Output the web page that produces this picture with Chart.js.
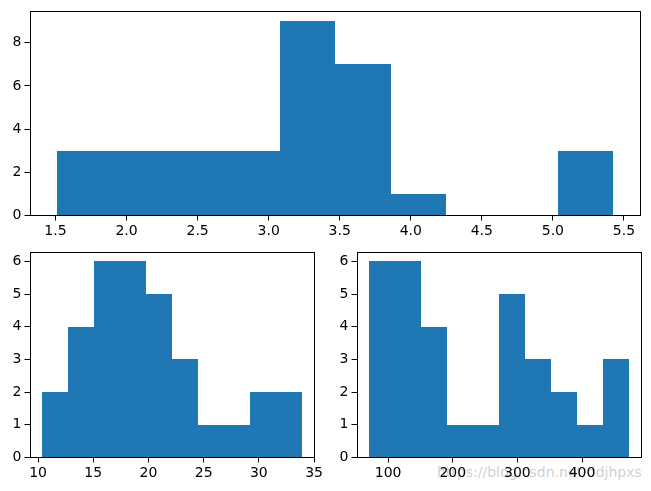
<!DOCTYPE html>
<html>
<head>
<meta charset="utf-8">
<script src="https://cdn.jsdelivr.net/npm/chart.js@4"></script>
<style>
  body { margin: 0; background: #fff; }
  #wrap { position: relative; width: 651px; height: 491px; overflow: hidden; }
  canvas { position: absolute; }
  #mark {
    position: absolute; left: 437px; top: 464px;
    font: 14px "DejaVu Sans", sans-serif; color: rgba(200, 200, 200, 0.85);
    white-space: nowrap;
  }
</style>
</head>
<body>
<div id="wrap">
  <div id="mark">https://blog.csdn.net/ddjhpxs</div>
  <canvas id="top" width="651" height="245" style="left:0;top:0"></canvas>
  <canvas id="botLeft" width="325" height="251" style="left:0;top:240px"></canvas>
  <canvas id="botRight" width="326" height="251" style="left:325px;top:240px"></canvas>
</div>
<script>
// histogram bins (edges + counts)
const wtEdges = [1.513, 1.904, 2.295, 2.687, 3.078, 3.469, 3.860, 4.251, 4.642, 5.033, 5.424];
const wtCounts = [3, 3, 3, 3, 9, 7, 1, 0, 0, 3];
const mpgEdges = [10.4, 12.75, 15.1, 17.45, 19.8, 22.15, 24.5, 26.85, 29.2, 31.55, 33.9];
const mpgCounts = [2, 4, 6, 6, 5, 3, 1, 1, 2, 2];
const dispEdges = [71.1, 111.19, 151.28, 191.37, 231.46, 271.55, 311.64, 351.73, 391.82, 431.91, 472.0];
const dispCounts = [6, 6, 4, 1, 1, 5, 3, 2, 1, 3];

// tick labels
const wtXTicks = [1.5, 2.0, 2.5, 3.0, 3.5, 4.0, 4.5, 5.0, 5.5];
const wtYTicks = [0, 2, 4, 6, 8];
const mpgXTicks = [10, 15, 20, 25, 30, 35];
const dispXTicks = [100, 200, 300, 400];
const smallYTicks = [0, 1, 2, 3, 4, 5, 6];

const font = { family: 'DejaVu Sans', size: 14 };

// matplotlib-style box around the plot area
const frame = {
  id: 'frame',
  afterDraw(chart) {
    const a = chart.chartArea, c = chart.ctx;
    const l = Math.round(a.left) + 0.5, t = Math.round(a.top) + 0.5;
    const r = Math.round(a.right) - 0.5, b = Math.round(a.bottom) - 0.5;
    c.save();
    c.strokeStyle = '#000';
    c.lineWidth = 1;
    c.strokeRect(l, t, r - l, b - t);
    c.restore();
  }
};

// snap each bar to its bin edges on whole pixels (like matplotlib), so bins touch without seams
const snapBars = edges => ({
  id: 'snapBars',
  beforeDatasetsDraw(chart) {
    const xs = chart.scales.x;
    chart.getDatasetMeta(0).data.forEach((el, i) => {
      const l = Math.round(xs.getPixelForValue(edges[i]));
      const r = Math.round(xs.getPixelForValue(edges[i + 1]));
      el.x = (l + r) / 2;
      el.width = r - l;
      el.y = Math.round(el.y);
      el.base = Math.round(el.base);
    });
  }
});

function makeHist(id, edges, counts, o) {
  const pts = counts.map((n, i) => ({ x: (edges[i] + edges[i + 1]) / 2, y: n }));
  const axis = (ticks, fmt, size, isY) => ({
    type: 'linear',
    offset: false,
    min: isY ? 0 : o.xmin,
    max: isY ? o.ymax : o.xmax,
    grid: { display: true, drawOnChartArea: false, drawTicks: true, tickLength: 5, color: '#000', offset: false },
    border: { display: false },
    ticks: { color: '#000', font: font, padding: isY ? 3 : 2, maxRotation: 0, autoSkip: false, callback: fmt },
    afterBuildTicks: s => { s.ticks = ticks.map(v => ({ value: v })); },
    afterFit: s => { if (isY) s.width = size; else s.height = size; }
  });
  return new Chart(document.getElementById(id), {
    type: 'bar',
    data: {
      datasets: [{
        data: pts,
        backgroundColor: '#1f77b4',
        borderWidth: 0,
        inflateAmount: 0,
        barPercentage: 1,
        categoryPercentage: 1
      }]
    },
    options: {
      responsive: false,
      animation: false,
      layout: { padding: o.pad },
      plugins: { legend: { display: false }, tooltip: { enabled: false } },
      scales: {
        x: axis(o.xticks, o.xfmt, o.xh, false),
        y: axis(o.yticks, v => String(v), o.yw, true)
      }
    },
    plugins: [snapBars(edges), frame]
  });
}

makeHist('top', wtEdges, wtCounts, {
  xmin: 1.317, xmax: 5.62, ymax: 9.45,
  xticks: wtXTicks, yticks: wtYTicks, xfmt: v => v.toFixed(1),
  pad: { left: 0, top: 8.5, right: 10, bottom: 0 }, yw: 29.5, xh: 29.5
});

makeHist('botLeft', mpgEdges, mpgCounts, {
  xmin: 9.225, xmax: 35.075, ymax: 6.3,
  xticks: mpgXTicks, yticks: smallYTicks, xfmt: v => String(v),
  pad: { left: 0, top: 11.5, right: 10, bottom: 0 }, yw: 29.5, xh: 33.5
});

makeHist('botRight', dispEdges, dispCounts, {
  xmin: 51.05, xmax: 492.05, ymax: 6.3,
  xticks: dispXTicks, yticks: smallYTicks, xfmt: v => String(v),
  pad: { left: 0, top: 11.5, right: 9.5, bottom: 0 }, yw: 31.5, xh: 33.5
});
</script>
</body>
</html>
